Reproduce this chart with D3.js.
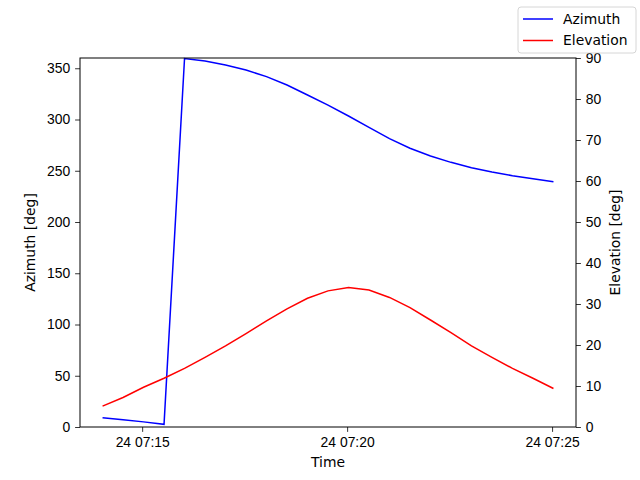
<!DOCTYPE html>
<html>
<head>
<meta charset="utf-8">
<script src="https://cdn.jsdelivr.net/npm/d3@7"></script>
<style>
  body { margin: 0; background: #fff; }
  svg { font-family: "DejaVu Sans", sans-serif; }
</style>
</head>
<body>
<div id="chart"></div>
<script>
// samples every 30 s
const startTime = "2024-01-24T07:14:02";
const stepSeconds = 30;
const azimuth = [9.0, 7.0, 5.0, 2.6, 359.5, 357.0, 353.2, 348.3, 341.8, 333.7, 323.9, 314.0,
  303.4, 292.4, 281.3, 271.9, 264.4, 258.2, 253.0, 248.8, 245.2, 242.2, 239.3];
const elevation = [5.1, 7.2, 9.7, 11.9, 14.3, 17.0, 19.8, 22.8, 25.9, 28.8, 31.4, 33.2,
  34.0, 33.4, 31.6, 29.1, 26.1, 23.0, 19.8, 17.0, 14.3, 11.9, 9.4];
const azTicks = [0, 50, 100, 150, 200, 250, 300, 350];
const elTicks = [0, 10, 20, 30, 40, 50, 60, 70, 80, 90];
const timeTicks = ["2024-01-24T07:15:00", "2024-01-24T07:20:00", "2024-01-24T07:25:00"];
const seriesNames = ["Azimuth", "Elevation"];
const seriesColors = ["#0000ff", "#ff0000"];

const width = 640, height = 480;
const margin = { top: 58, right: 64, bottom: 53, left: 80 };
const fontSize = 13.9;
const tickLen = 4.9;

const t0 = new Date(startTime);
const times = azimuth.map((_, i) => new Date(t0.getTime() + i * stepSeconds * 1000));
const rows = times.map((t, i) => ({ t, az: azimuth[i], el: elevation[i] }));

const svg = d3.select("#chart").append("svg")
  .attr("width", width)
  .attr("height", height);

// matplotlib style 5% margins on x
const ext = d3.extent(times);
const pad = (ext[1] - ext[0]) * 0.05;
const x = d3.scaleTime()
  .domain([new Date(ext[0].getTime() - pad), new Date(ext[1].getTime() + pad)])
  .range([margin.left, width - margin.right]);
const yAz = d3.scaleLinear().domain([0, 360]).range([height - margin.bottom, margin.top]);
const yEl = d3.scaleLinear().domain([0, 90]).range([height - margin.bottom, margin.top]);

const plot = svg.append("g");

plot.append("path")
  .datum(rows)
  .attr("fill", "none")
  .attr("stroke", seriesColors[0])
  .attr("stroke-width", 1.5)
  .attr("d", d3.line().x(d => x(d.t)).y(d => yAz(d.az)));

plot.append("path")
  .datum(rows)
  .attr("fill", "none")
  .attr("stroke", seriesColors[1])
  .attr("stroke-width", 1.5)
  .attr("d", d3.line().x(d => x(d.t)).y(d => yEl(d.el)));

// frame
svg.append("rect")
  .attr("x", margin.left)
  .attr("y", margin.top)
  .attr("width", width - margin.left - margin.right)
  .attr("height", height - margin.top - margin.bottom)
  .attr("fill", "none")
  .attr("stroke", "#000")
  .attr("stroke-width", 1);

function styleAxis(g) {
  g.select(".domain").remove();
  g.selectAll(".tick line").attr("stroke", "#000").attr("stroke-width", 0.8);
  g.selectAll(".tick text").attr("fill", "#000").style("font-size", fontSize + "px");
}

const fmt = d3.timeFormat("%d %H:%M");
svg.append("g")
  .attr("transform", `translate(0,${height - margin.bottom})`)
  .call(d3.axisBottom(x)
    .tickValues(timeTicks.map(s => new Date(s)))
    .tickFormat(fmt)
    .tickSize(tickLen).tickPadding(4.9))
  .call(styleAxis);

svg.append("g")
  .attr("transform", `translate(${margin.left},0)`)
  .call(d3.axisLeft(yAz).tickValues(azTicks).tickSize(tickLen).tickPadding(4.9))
  .call(styleAxis);

svg.append("g")
  .attr("transform", `translate(${width - margin.right},0)`)
  .call(d3.axisRight(yEl).tickValues(elTicks).tickSize(tickLen).tickPadding(4.9))
  .call(styleAxis);

// axis labels
svg.append("text")
  .attr("x", (margin.left + width - margin.right) / 2)
  .attr("y", 467)
  .attr("text-anchor", "middle")
  .style("font-size", fontSize + "px")
  .text("Time");

svg.append("text")
  .attr("transform", `translate(35,${(margin.top + height - margin.bottom) / 2}) rotate(-90)`)
  .attr("text-anchor", "middle")
  .style("font-size", fontSize + "px")
  .text("Azimuth [deg]");

svg.append("text")
  .attr("transform", `translate(620,${(margin.top + height - margin.bottom) / 2}) rotate(-90)`)
  .attr("text-anchor", "middle")
  .style("font-size", fontSize + "px")
  .text("Elevation [deg]");

// figure legend, upper right
const legend = svg.append("g").attr("transform", "translate(518,7)");
legend.append("rect")
  .attr("width", 118)
  .attr("height", 46)
  .attr("rx", 3)
  .attr("fill", "#fff")
  .attr("fill-opacity", 0.8)
  .attr("stroke", "#cccccc")
  .attr("stroke-width", 0.8);

const items = legend.selectAll(".item")
  .data(seriesNames)
  .join("g")
  .attr("class", "item")
  .attr("transform", (d, i) => `translate(0,${12 + i * 21.5})`);

items.append("line")
  .attr("x1", 5).attr("x2", 35)
  .attr("stroke", (d, i) => seriesColors[i])
  .attr("stroke-width", 1.5);

items.append("text")
  .attr("x", 45)
  .attr("dy", "0.35em")
  .style("font-size", fontSize + "px")
  .text(d => d);
</script>
</body>
</html>
